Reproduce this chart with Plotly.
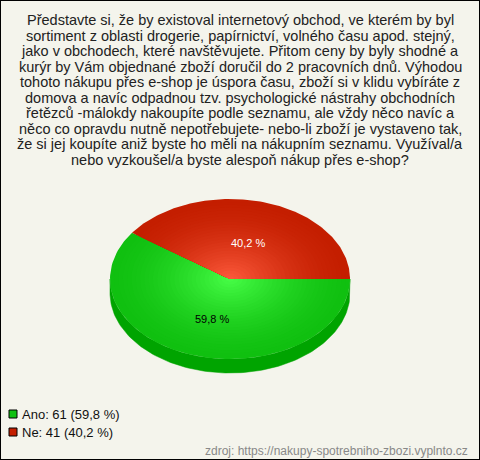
import numpy as np
import plotly.graph_objects as go

# ---- data ----
categories = ["Ano", "Ne"]
counts = [61, 41]
top_colors_edge = ["#10c010", "#c41e00"]
top_colors_center = ["#48ff48", "#ff5c3e"]
side_colors = ["#00a400", "#a01800"]
label_colors = ["#000000", "#ffffff"]
legend_colors = ["#10c010", "#c41e00"]

title_lines = [
    "Představte si, že by existoval internetový obchod, ve kterém by byl",
    "sortiment z oblasti drogerie, papírnictví, volného času apod. stejný,",
    "jako v obchodech, které navštěvujete. Přitom ceny by byly shodné a",
    "kurýr by Vám objednané zboží doručil do 2 pracovních dnů. Výhodou",
    "tohoto nákupu přes e-shop je úspora času, zboží si v klidu vybíráte z",
    "domova a navíc odpadnou tzv. psychologické nástrahy obchodních",
    "řetězců -málokdy nakoupíte podle seznamu, ale vždy něco navíc a",
    "něco co opravdu nutně nepotřebujete- nebo-li zboží je vystaveno tak,",
    "že si jej koupíte aniž byste ho měli na nákupním seznamu. Využíval/a",
    "nebo vyzkoušel/a byste alespoň nákup přes e-shop?",
]
source_text = "zdroj: https://nakupy-spotrebniho-zbozi.vyplnto.cz"

# ---- layout parameters (pixels) ----
W, H = 480, 460
CX, CY, RX, RY, DEPTH = 230, 279, 120, 80, 14
BG = "#f4f4ec"
FONT = "Liberation Sans, Arial, sans-serif"

total = sum(counts)
fracs = [c / total for c in counts]
pct_txt = [f"{f*100:.1f}".replace(".", ",") + " %" for f in fracs]


def hex2rgb(h):
    h = h.lstrip("#")
    return np.array([int(h[i:i + 2], 16) for i in (0, 2, 4)], dtype=float)


def mix(c1, c2, t):
    r = hex2rgb(c1) * (1 - t) + hex2rgb(c2) * t
    return "rgb(%d,%d,%d)" % tuple(r.round().astype(int))


def arc(a0, a1, s=1.0, dy=0.0, n=120):
    t = np.radians(np.linspace(a0, a1, n))
    return CX + s * RX * np.cos(t), CY - s * RY * np.sin(t) + dy


fig = go.Figure()

# slices go clockwise from 3 o'clock
angles = []
start = 0.0
for f in fracs:
    end = start - f * 360.0
    angles.append((start, end))
    start = end

# side (visible lower half)
for i, (a0, a1) in enumerate(angles):
    lo, hi = min(a0, a1), max(a0, a1)
    for base in (-360.0, 0.0):
        s_lo, s_hi = max(lo, base - 180.0), min(hi, base)
        if s_hi > s_lo:
            x1, y1 = arc(s_lo, s_hi)
            x2, y2 = arc(s_hi, s_lo, dy=DEPTH)
            fig.add_trace(go.Scatter(
                x=np.concatenate([x1, x2, x1[:1]]),
                y=np.concatenate([y1, y2, y1[:1]]),
                mode="lines", fill="toself", fillcolor=side_colors[i],
                line=dict(width=0.5, color=side_colors[i]),
                hoverinfo="skip", showlegend=False))

# top faces with layered radial gradient
NL = 28
for i, (a0, a1) in enumerate(angles):
    for k in range(NL):
        s = 1.0 - k / NL
        t = (1 - s) ** 1.6
        col = mix(top_colors_edge[i], top_colors_center[i], t)
        xa, ya = arc(a0, a1, s=s)
        fig.add_trace(go.Scatter(
            x=np.concatenate([[CX], xa, [CX]]),
            y=np.concatenate([[CY], ya, [CY]]),
            mode="lines", fill="toself", fillcolor=col,
            line=dict(width=0, color=col),
            hoverinfo="skip", showlegend=False))

annotations = []
# slice labels
for i, (a0, a1) in enumerate(angles):
    mid = np.radians((a0 + a1) / 2)
    annotations.append(dict(
        x=CX + 0.5 * RX * np.cos(mid), y=CY - 0.5 * RY * np.sin(mid) + 2,
        xref="x", yref="y", text=pct_txt[i], showarrow=False,
        font=dict(family=FONT, size=11, color=label_colors[i])))

# title lines
for j, line in enumerate(title_lines):
    annotations.append(dict(
        x=W / 2, y=20 + j * 15.5, xref="x", yref="y", text=line,
        showarrow=False, font=dict(family=FONT, size=14.5, color="#222222"),
        xanchor="center", yanchor="middle"))

# legend
shapes = [dict(type="rect", xref="paper", yref="paper", x0=0, y0=0, x1=1, y1=1,
               line=dict(color="#000000", width=2), fillcolor="rgba(0,0,0,0)")]
for i, cat in enumerate(categories):
    ly = 414 + i * 18
    shapes.append(dict(type="rect", xref="x", yref="y", x0=9, x1=17,
                       y0=ly - 4, y1=ly + 4, fillcolor=legend_colors[i],
                       line=dict(color="#000000", width=1)))
    annotations.append(dict(
        x=20, y=ly, xref="x", yref="y",
        text=f"{cat}: {counts[i]} ({pct_txt[i]})", showarrow=False,
        xanchor="left", yanchor="middle",
        font=dict(family=FONT, size=13, color="#111111")))

annotations.append(dict(
    x=470, y=451, xref="x", yref="y", text=source_text, showarrow=False,
    xanchor="right", yanchor="middle",
    font=dict(family=FONT, size=12, color="#888888")))

fig.update_layout(
    width=W, height=H, margin=dict(l=0, r=0, t=0, b=0),
    paper_bgcolor=BG, plot_bgcolor=BG,
    xaxis=dict(range=[0, W], visible=False, fixedrange=True),
    yaxis=dict(range=[H, 0], visible=False, fixedrange=True),
    annotations=annotations, shapes=shapes, showlegend=False)

fig.write_html("out.html", config={"displayModeBar": False},
               post_script="document.body.style.margin='0';document.body.style.overflow='hidden';")
